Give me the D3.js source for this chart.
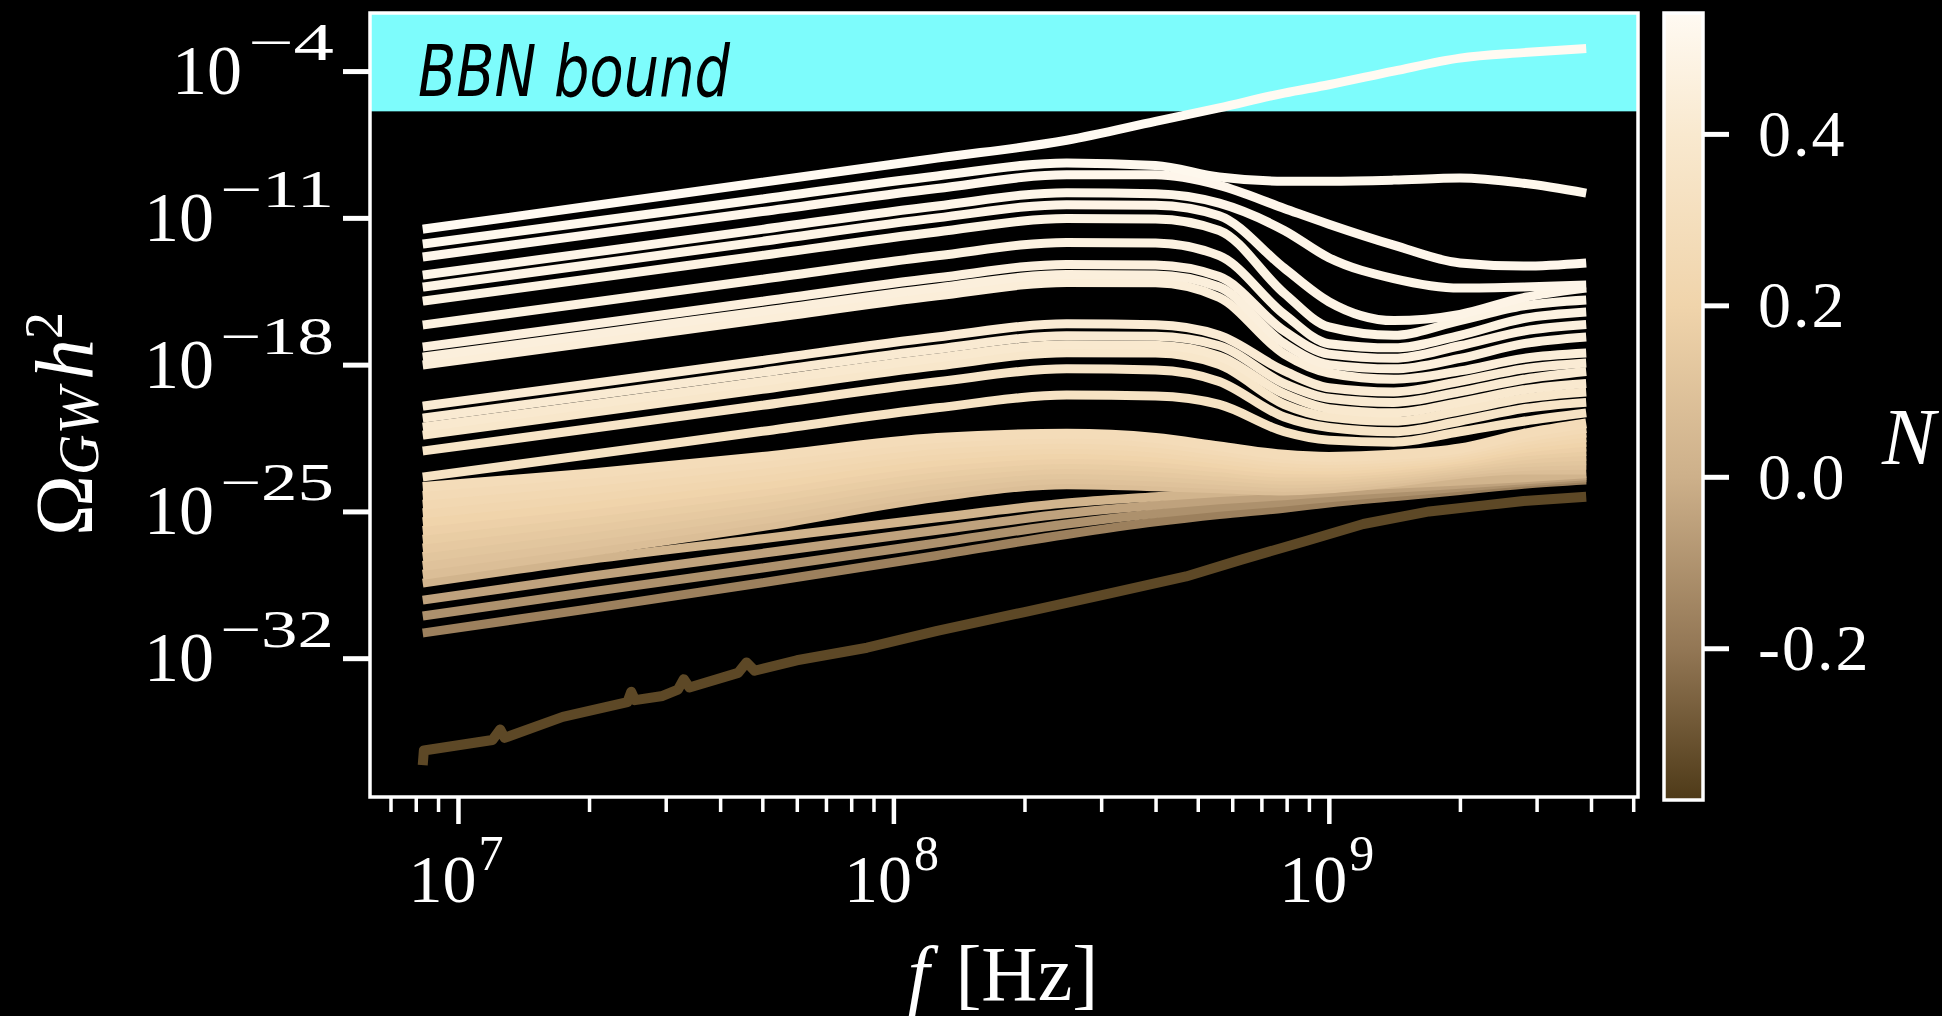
<!DOCTYPE html>
<html><head><meta charset="utf-8">
<script src="https://cdn.jsdelivr.net/npm/d3@7"></script>
<style>html,body{margin:0;padding:0;background:#000;}svg{display:block;}</style>
</head><body>
<svg id="chart" width="1942" height="1016"></svg>
<script>
// ---------------- DATA ----------------
// frequency nodes [Hz]
const freqHz = [8.3e6, 2.0e7, 5.0e7, 1.26e8, 2.5e8, 4.0e8, 5.6e8, 7.9e8, 1.0e9, 1.41e9, 2.0e9, 2.8e9, 3.9e9];

// log10(Omega_GW h^2) for each spectrum, upper (bright) group
const u1  = [-11.54,-10.45, -9.30, -8.15, -7.30, -6.40, -5.75, -5.05, -4.65, -4.00, -3.38, -3.12, -2.92];
const u2  = [-12.25,-11.20,-10.10, -9.00, -8.38, -8.50, -9.05, -9.25, -9.25, -9.20, -9.10, -9.35, -9.82];
const u3  = [-12.87,-11.80,-10.70, -9.60, -8.95, -8.95, -9.45,-10.55,-11.30,-12.30,-13.15,-13.30,-13.15];
const u4  = [-13.73,-12.67,-11.55,-10.43, -9.80, -9.85,-10.30,-11.60,-12.90,-13.90,-14.35,-14.30,-14.20];
const u5  = [-14.30,-13.24,-12.12,-11.00,-10.37,-10.40,-10.90,-13.40,-15.00,-15.90,-15.60,-14.80,-14.35];
const u6  = [-14.97,-13.91,-12.79,-11.67,-11.03,-11.05,-11.60,-14.60,-16.20,-16.60,-15.90,-15.20,-14.92];
const u7  = [-16.11,-15.05,-13.93,-12.81,-12.17,-12.20,-12.80,-15.60,-17.00,-17.20,-16.60,-15.80,-15.49];
const u8  = [-17.16,-16.10,-14.98,-13.86,-13.22,-13.25,-13.80,-16.40,-17.50,-17.70,-17.10,-16.40,-16.09];
const u9  = [-17.64,-16.58,-15.46,-14.34,-13.70,-13.72,-14.30,-17.00,-18.00,-18.20,-17.70,-17.00,-16.68];
const u10 = [-18.02,-16.96,-15.84,-14.72,-14.08,-14.10,-14.80,-17.50,-18.40,-18.70,-18.30,-17.70,-17.45];
const u11 = [-19.98,-18.92,-17.80,-16.68,-16.05,-16.10,-16.60,-18.30,-19.10,-19.30,-18.80,-18.20,-17.92];
const u12 = [-20.55,-19.49,-18.37,-17.25,-16.62,-16.65,-17.10,-18.90,-19.60,-19.80,-19.30,-18.70,-18.33];
const u13 = [-20.98,-19.92,-18.80,-17.68,-17.05,-17.08,-17.60,-19.40,-20.10,-20.30,-19.80,-19.20,-18.90];
const u14 = [-21.36,-20.30,-19.18,-18.06,-17.43,-17.45,-18.00,-19.90,-20.50,-20.70,-20.20,-19.60,-19.30];
const u15 = [-22.12,-21.06,-19.94,-18.82,-18.20,-18.25,-18.80,-20.50,-21.00,-21.20,-20.70,-20.10,-19.80];
const u16 = [-23.36,-22.30,-21.18,-20.06,-19.45,-19.50,-19.90,-21.20,-21.60,-21.70,-21.20,-20.70,-20.30];

// dense middle band
const b1  = [-23.84,-23.20,-22.40,-21.50,-21.30,-21.50,-21.90,-22.30,-22.40,-22.30,-22.00,-21.30,-20.80];
const b2  = [-24.26,-23.57,-22.73,-21.78,-21.54,-21.73,-22.10,-22.47,-22.55,-22.43,-22.12,-21.47,-21.02];
const b3  = [-24.68,-23.94,-23.06,-22.06,-21.78,-21.96,-22.30,-22.64,-22.70,-22.56,-22.24,-21.64,-21.24];
const b4  = [-25.09,-24.31,-23.39,-22.34,-22.02,-22.19,-22.50,-22.81,-22.85,-22.69,-22.36,-21.81,-21.46];
const b5  = [-25.51,-24.68,-23.72,-22.62,-22.26,-22.42,-22.70,-22.98,-23.00,-22.82,-22.48,-21.98,-21.68];
const b6  = [-25.93,-25.05,-24.05,-22.90,-22.50,-22.65,-22.90,-23.15,-23.15,-22.95,-22.60,-22.15,-21.90];
const b7  = [-26.35,-25.42,-24.38,-23.18,-22.74,-22.88,-23.10,-23.32,-23.30,-23.08,-22.72,-22.32,-22.12];
const b8  = [-26.77,-25.79,-24.71,-23.46,-22.98,-23.11,-23.30,-23.49,-23.45,-23.21,-22.84,-22.49,-22.34];
const b9  = [-27.18,-26.16,-25.04,-23.74,-23.22,-23.34,-23.50,-23.66,-23.60,-23.34,-22.96,-22.66,-22.56];
const b10 = [-27.60,-26.53,-25.37,-24.02,-23.46,-23.57,-23.70,-23.83,-23.75,-23.47,-23.08,-22.83,-22.78];
const b11 = [-28.02,-26.90,-25.70,-24.30,-23.70,-23.80,-23.90,-24.00,-23.90,-23.60,-23.20,-23.00,-23.00];

// lower (tan/brown) lines
const l1 = [-28.42,-27.30,-26.30,-25.30,-24.60,-24.30,-24.10,-23.95,-23.85,-23.70,-23.55,-23.40,-23.20];
const l2 = [-29.23,-28.10,-27.00,-25.90,-25.10,-24.70,-24.45,-24.25,-24.10,-23.90,-23.70,-23.50,-23.30];
const l3 = [-29.99,-28.85,-27.70,-26.50,-25.60,-25.10,-24.80,-24.55,-24.35,-24.10,-23.85,-23.60,-23.40];
const l4 = [-30.80,-29.65,-28.40,-27.10,-26.10,-25.50,-25.15,-24.85,-24.60,-24.30,-24.00,-23.70,-23.50];

// lowest (darkest) spectrum, own frequency sampling
const darkFreqHz = [8.3e6, 8.35e6, 1.2e7, 1.25e7, 1.28e7, 1.74e7, 2.45e7, 2.5e7, 2.55e7, 2.95e7, 3.2e7, 3.3e7, 3.4e7, 4.4e7, 4.6e7, 4.8e7, 6.0e7, 8.7e7, 1.26e8, 2.0e8, 3.16e8, 4.7e8, 6.3e8, 8.9e8, 1.2e9, 1.7e9, 2.3e9, 2.8e9, 3.9e9];
const darkVals   = [-37.1, -36.4, -35.9, -35.4, -35.8, -34.8, -34.1, -33.6, -34.0, -33.8, -33.5, -33.0, -33.4, -32.7, -32.2, -32.6, -32.1, -31.5, -30.7, -29.8, -28.9, -28.1, -27.3, -26.4, -25.6, -25.0, -24.7, -24.5, -24.3];

// N value (colour) of each spectrum
const upperN = [0.54,0.52,0.51,0.50,0.49,0.48,0.47,0.46,0.45,0.44,0.42,0.41,0.40,0.38,0.36,0.34];
const bandN  = [0.28,0.26,0.24,0.22,0.20,0.18,0.16,0.14,0.12,0.10,0.08];
const lowerN = [0.02,-0.05,-0.11,-0.17];
const darkN  = -0.34;

// colormap
const cmapN      = [-0.38, -0.2, 0.0, 0.2, 0.4, 0.54];
const cmapColors = ["#4e3a18", "#937755", "#cdb08a", "#f0d4ab", "#f9e9cf", "#fffaf2"];

// ticks / labels
const xMajorExps = [7, 8, 9];
const yTickExps  = [-4, -11, -18, -25, -32];
const cbTicks    = [0.4, 0.2, 0.0, -0.2];
const cbLabels   = ["0.4", "0.2", "0.0", "-0.2"];
const bbnBound   = -5.92;   // log10 of BBN bound

// ---------------- CHART ----------------
const svg = d3.select("#chart");
const L = 370, R = 1638, T = 13, B = 797;
const serif = "'Liberation Serif','DejaVu Serif',serif";

svg.append("rect").attr("width",1942).attr("height",1016).attr("fill","#000");

const x = d3.scaleLog().domain([Math.pow(10,6.798), Math.pow(10,9.71)]).range([L, R]);
const y = d3.scaleLog().domain([Math.pow(10,-38.62), Math.pow(10,-1.23)]).range([B, T]);
const color = d3.scaleLinear().domain(cmapN).range(cmapColors).interpolate(d3.interpolateRgb);

svg.append("clipPath").attr("id","clip").append("rect")
  .attr("x",L).attr("y",T).attr("width",R-L).attr("height",B-T);

// BBN band
svg.append("rect").attr("x",L).attr("y",T).attr("width",R-L)
  .attr("height", y(Math.pow(10,bbnBound)) - T).attr("fill","#7dfcfc");

svg.append("text").attr("x",418).attr("y",96)
  .attr("font-family","'Liberation Sans Narrow','DejaVu Sans Condensed','Open Sans',sans-serif")
  .attr("font-style","italic").attr("font-weight",300).attr("font-size",72).attr("fill","#000")
  .attr("textLength",312).attr("lengthAdjust","spacingAndGlyphs")
  .text("BBN bound");

// build series list
const upper = [u1,u2,u3,u4,u5,u6,u7,u8,u9,u10,u11,u12,u13,u14,u15,u16];
const band = [b1,b2,b3,b4,b5,b6,b7,b8,b9,b10,b11];
const lower = [l1,l2,l3,l4];
const all = [];
all.push({N: darkN, pts: darkFreqHz.map((f,i)=>[f, darkVals[i]]), curve: d3.curveLinear, w: 10});
lower.forEach((s,i)=>all.push({N: lowerN[i], pts: freqHz.map((f,j)=>[f,s[j]]), curve: d3.curveMonotoneX, w: 9}));
band.forEach((s,i)=>all.push({N: bandN[i], pts: freqHz.map((f,j)=>[f,s[j]]), curve: d3.curveMonotoneX, w: 10}));
upper.forEach((s,i)=>all.push({N: upperN[i], pts: freqHz.map((f,j)=>[f,s[j]]), curve: d3.curveMonotoneX, w: 9}));
all.sort((a,b)=>a.N-b.N);

const g = svg.append("g").attr("clip-path","url(#clip)");
all.forEach(s=>{
  const line = d3.line().x(d=>x(d[0])).y(d=>y(Math.pow(10,d[1]))).curve(s.curve);
  g.append("path").attr("d", line(s.pts)).attr("fill","none")
    .attr("stroke", color(s.N)).attr("stroke-width", s.w)
    .attr("stroke-linejoin","round").attr("stroke-linecap","butt");
});

// frame
svg.append("rect").attr("x",L).attr("y",T).attr("width",R-L).attr("height",B-T)
  .attr("fill","none").attr("stroke","#fff").attr("stroke-width",3.5);

// x axis ticks
const xMajor = xMajorExps.map(e=>Math.pow(10,e));
const xMinor = [];
for (let e=6; e<=9; e++) for (let m=2; m<=9; m++) {
  const v = m*Math.pow(10,e);
  if (v > x.domain()[0] && v < x.domain()[1]) xMinor.push(v);
}
function styleAxis(sel, w){
  sel.select(".domain").remove();
  sel.selectAll(".tick line").attr("stroke","#fff").attr("stroke-width",w);
  sel.selectAll(".tick text").remove();
}
svg.append("g").attr("transform",`translate(0,${B})`)
  .call(d3.axisBottom(x).tickValues(xMinor).tickSize(15).tickFormat(()=>""))
  .call(s=>styleAxis(s,3.5));
svg.append("g").attr("transform",`translate(0,${B})`)
  .call(d3.axisBottom(x).tickValues(xMajor).tickSize(27).tickFormat(()=>""))
  .call(s=>styleAxis(s,4.5));
xMajorExps.forEach(e=>{
  const t = svg.append("text").attr("x", x(Math.pow(10,e))-2).attr("y",902)
    .attr("text-anchor","middle").attr("font-family",serif).attr("fill","#fff");
  t.append("tspan").attr("font-size",68).text("10");
  t.append("tspan").attr("font-size",50).attr("dx",2).attr("dy",-32).text(e);
});

// y axis ticks
svg.append("g").attr("transform",`translate(${L},0)`)
  .call(d3.axisLeft(y).tickValues(yTickExps.map(e=>Math.pow(10,e))).tickSize(27).tickFormat(()=>""))
  .call(s=>styleAxis(s,5));
yTickExps.forEach(e=>{
  const yy = y(Math.pow(10,e));
  const txt = "\u2212"+Math.abs(e);
  const t = svg.append("text").attr("x",334).attr("y",yy+23)
    .attr("text-anchor","end").attr("font-family",serif).attr("fill","#fff");
  t.append("tspan").attr("font-size",70).text("10");
  t.append("tspan").attr("font-size",52).attr("dx",6).attr("dy",-34)
    .attr("textLength", txt.length === 2 ? 86 : 114).attr("lengthAdjust","spacingAndGlyphs")
    .text(txt);
});

// axis labels
const xl = svg.append("text").attr("x",1003).attr("y",1000).attr("text-anchor","middle")
  .attr("font-family",serif).attr("fill","#fff").attr("font-size",78);
xl.append("tspan").attr("font-style","italic").text("f");
xl.append("tspan").attr("dx",26).text("[Hz]");

const yl = svg.append("text").attr("transform","translate(92,424) rotate(-90)")
  .attr("text-anchor","middle").attr("font-family",serif).attr("fill","#fff");
yl.append("tspan").attr("font-size",82).text("\u03A9");
yl.append("tspan").attr("font-size",56).attr("font-style","italic").attr("dy",6).text("GW");
yl.append("tspan").attr("font-size",82).attr("font-style","italic").attr("dy",-6).attr("dx",8).text("h");
yl.append("tspan").attr("font-size",54).attr("dy",-30).text("2");

// colorbar
const cbL = 1664, cbR = 1703, cbT = 13, cbB = 800;
const cy = d3.scaleLinear().domain([-0.377, 0.541]).range([cbB, cbT]);
const grad = svg.append("defs").append("linearGradient").attr("id","cbgrad")
  .attr("x1",0).attr("y1",1).attr("x2",0).attr("y2",0);
const nd = cy.domain();
cmapN.forEach((n,i)=>{
  grad.append("stop").attr("offset", Math.max(0,Math.min(1,(n-nd[0])/(nd[1]-nd[0]))))
    .attr("stop-color", cmapColors[i]);
});
svg.append("rect").attr("x",cbL).attr("y",cbT).attr("width",cbR-cbL).attr("height",cbB-cbT)
  .attr("fill","url(#cbgrad)").attr("stroke","#fff").attr("stroke-width",3.5);
svg.append("g").attr("transform",`translate(${cbR},0)`)
  .call(d3.axisRight(cy).tickValues(cbTicks).tickSize(26).tickFormat(()=>""))
  .call(s=>styleAxis(s,5));
cbTicks.forEach((v,i)=>{
  svg.append("text").attr("x",1758).attr("y",cy(v)+22).attr("font-family",serif)
    .attr("font-size",66).attr("letter-spacing",2).attr("fill","#fff").text(cbLabels[i]);
});
svg.append("text").attr("x",1882).attr("y",464).attr("font-family",serif)
  .attr("font-style","italic").attr("font-size",80).attr("fill","#fff").text("N");
</script>
</body></html>
